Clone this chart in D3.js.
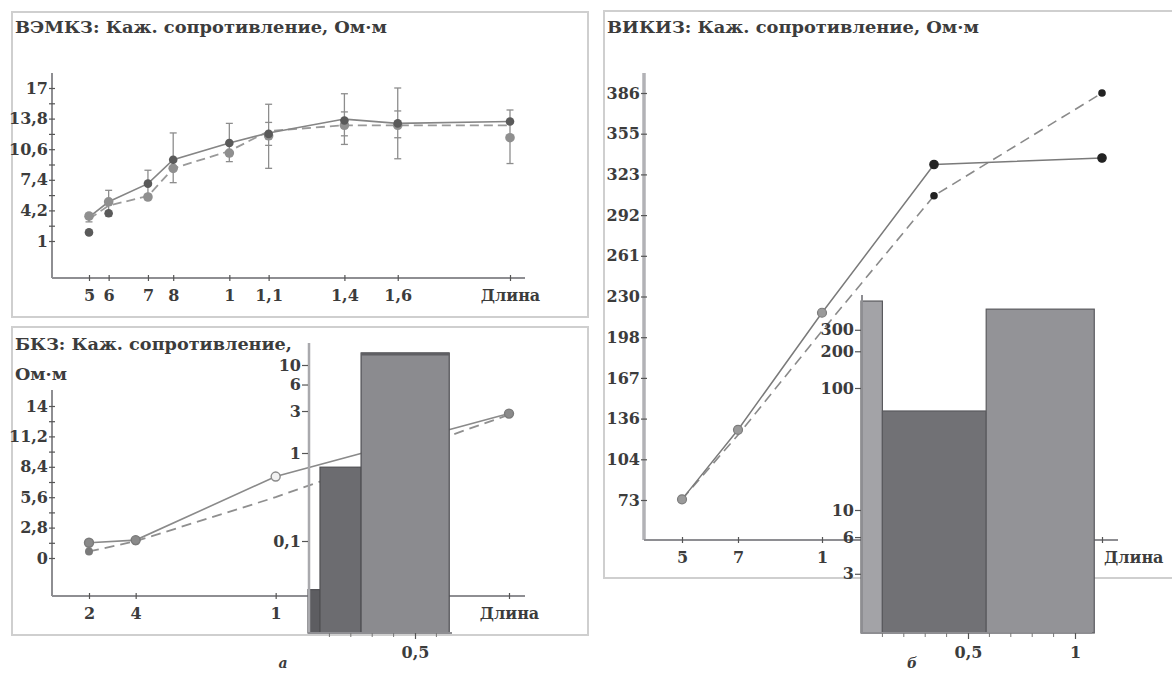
<!DOCTYPE html>
<html><head><meta charset="utf-8">
<script src="https://cdn.jsdelivr.net/npm/d3@7"></script>
<style>
body{margin:0;background:#fff}
svg text{font-family:'DejaVu Serif',serif;font-weight:bold;fill:#3c3c3c}
</style>
</head><body>
<svg id="c" width="1172" height="676"></svg>
<script>
// ---------- DATA ----------
// Panel a (top): ВЭМКЗ
const vemX = [0.5, 0.57, 0.71, 0.8, 1.0, 1.14, 1.41, 1.6, 2.0];
const vemXLabels = ["5", "6", "7", "8", "1", "1,1", "1,4", "1,6", "Длина"];
const vemYTicks = [1, 4.2, 7.4, 10.6, 13.8, 17];
const vemYLabels = ["1", "4,2", "7,4", "10,6", "13,8", "17"];
const vemYMinor = [2.6, 5.8, 9, 12.2, 15.4];
const vemSolid = [3.5, 5.1, 7.0, 9.5, 11.25, 12.3, 13.75, 13.3, 13.5];
const vemDashed = [3.3, 4.7, 5.7, 8.6, 10.4, 12.5, 13.1, 13.1, 13.1];
const vemDark = [1.9, 3.9, 7.0, 9.5, 11.25, 12.2, 13.6, 13.3, 13.5];
const vemGray = [3.6, 5.1, 5.6, 8.6, 10.2, 12.0, 13.1, 13.1, 11.8];
const vemErrLo = [3.0, 3.6, 5.5, 7.1, 9.3, 8.6, 11.1, 9.6, 9.1];
const vemErrHi = [3.9, 6.3, 8.4, 12.3, 13.3, 15.3, 16.4, 17.0, 14.7];
const vemInnerLo = [null, null, null, null, null, 11.0, 12.0, 11.8, null];
const vemInnerHi = [null, null, null, null, null, 13.4, 14.5, 14.6, null];

// Panel a (bottom): БКЗ
const bkzX = [0.2, 0.4, 1.0, 2.0];
const bkzXLabels = ["2", "4", "1", "Длина"];
const bkzYTicks = [0, 2.8, 5.6, 8.4, 11.2, 14];
const bkzYLabels = ["0", "2,8", "5,6", "8,4", "11,2", "14"];
const bkzYMinor = [1.4, 4.2, 7.0, 9.8, 12.6];
const bkzSolid = [1.4, 1.65, 7.5, 13.3];
const bkzDashed = [0.6, 1.55, 5.6, 13.2];

// Inset a: layered model (log scale)
const bkzLayerEdges = [0, 0.056, 0.248, 0.66];
const bkzLayerValues = [0.028, 0.69, 13.7];
const bkzLayerColors = ["#5d5d61", "#6c6c70", "#8b8b8f"];
const bkzInsetYTicks = [0.1, 1, 3, 6, 10];
const bkzInsetYLabels = ["0,1", "1", "3", "6", "10"];
const insetXMajorA = [0.5];
const insetXMajorLabelsA = ["0,5"];
const insetXMinorA = [0.1, 0.2, 0.3, 0.4, 0.6];

// Panel б: ВИКИЗ
const vikX = [0.5, 0.7, 1.0, 1.4, 2.0];
const vikXTicks = [0.5, 0.7, 1.0, 2.0];
const vikXLabels = ["5", "7", "1", ""];
const vikYTicks = [73, 104.3, 135.6, 166.9, 198.2, 229.5, 260.8, 292.1, 323.4, 354.7, 386];
const vikYLabels = ["73", "104", "136", "167", "198", "230", "261", "292", "323", "355", "386"];
const vikSolid = [73.5, 127, 217, 331, 336];
const vikDashed = [73.5, 123, 203, 307, 386];

// Inset б
const vikLayerEdges = [0, 0.1, 0.585, 1.09];
const vikLayerValues = [516, 64.8, 443];
const vikLayerColors = ["#a3a3a7", "#717175", "#939397"];
const vikInsetYTicks = [3, 6, 10, 100, 200, 300];
const vikInsetYLabels = ["3", "6", "10", "100", "200", "300"];
const insetXMajorB = [0.5, 1];
const insetXMajorLabelsB = ["0,5", "1"];
const insetXMinorB = [0.1, 0.2, 0.3, 0.4, 0.6, 0.7, 0.8, 0.9];

// ---------- DRAW ----------
const svg = d3.select("#c");
svg.append("rect").attr("width", 1172).attr("height", 676).attr("fill", "#fff");

const AX = "#8e8e92", TK = "#555", FS = 16;
function box(x, y, w, h) {
  svg.append("rect").attr("x", x).attr("y", y).attr("width", w).attr("height", h)
    .attr("fill", "none").attr("stroke", "#cfcfcf").attr("stroke-width", 2);
}
function title(x, y, t, len) {
  svg.append("text").attr("x", x).attr("y", y).attr("font-size", 17.5)
    .attr("textLength", len).attr("lengthAdjust", "spacingAndGlyphs").text(t);
}
function line(x1, y1, x2, y2, col, w) {
  svg.append("line").attr("x1", x1).attr("y1", y1).attr("x2", x2).attr("y2", y2)
    .attr("stroke", col).attr("stroke-width", w);
}
function yAxis(scale, x0, ticks, labels, minor) {
  const g = svg.append("g").attr("transform", `translate(${x0 + 3},0)`)
    .call(d3.axisLeft(scale).tickValues(ticks).tickSize(6).tickPadding(1)
      .tickFormat((d, i) => labels[i]));
  g.select(".domain").remove();
  g.selectAll(".tick line").attr("stroke", TK).attr("stroke-width", 1.2);
  g.selectAll(".tick text").attr("font-size", FS).attr("fill", "#3c3c3c")
    .attr("font-family", "DejaVu Serif").attr("font-weight", "bold");
  if (minor) {
    const m = svg.append("g").attr("transform", `translate(${x0 + 3},0)`)
      .call(d3.axisLeft(scale).tickValues(minor).tickSize(6).tickFormat(""));
    m.select(".domain").remove();
    m.selectAll(".tick line").attr("stroke", TK).attr("stroke-width", 1.2);
  }
}
function xAxis(scale, y0, ticks, labels, pad) {
  const g = svg.append("g").attr("transform", `translate(0,${y0 - 3})`)
    .call(d3.axisBottom(scale).tickValues(ticks).tickSize(6).tickPadding(pad === undefined ? 9 : pad)
      .tickFormat((d, i) => labels[i]));
  g.select(".domain").remove();
  g.selectAll(".tick line").attr("stroke", TK).attr("stroke-width", 1.2);
  g.selectAll(".tick text").attr("font-size", FS).attr("fill", "#3c3c3c")
    .attr("font-family", "DejaVu Serif").attr("font-weight", "bold");
  return g;
}

// ===== Panel a top: ВЭМКЗ =====
box(12, 12, 576, 305);
title(15, 33, "ВЭМКЗ: Каж. сопротивление, Ом·м", 372);
const vx = d3.scaleLinear().domain([0.5, 2]).range([89, 510]);
const vy = d3.scaleLinear().domain([1, 17]).range([241, 88]);
line(52, 73, 52, 278, AX, 2);
line(52, 278, 525, 278, AX, 2);
yAxis(vy, 52, vemYTicks, vemYLabels, vemYMinor);
xAxis(vx, 278, vemX, vemXLabels);

// error bars
const eg = svg.append("g").attr("stroke", "#8d8d8d").attr("stroke-width", 1.3);
vemX.forEach((x, i) => {
  const px = vx(x);
  eg.append("line").attr("x1", px).attr("x2", px).attr("y1", vy(vemErrLo[i])).attr("y2", vy(vemErrHi[i]));
  [vemErrLo[i], vemErrHi[i], vemInnerLo[i], vemInnerHi[i]].forEach(v => {
    if (v === null) return;
    eg.append("line").attr("x1", px - 3.5).attr("x2", px + 3.5).attr("y1", vy(v)).attr("y2", vy(v));
  });
});
const lv = d3.line().x((d, i) => vx(vemX[i])).y(d => vy(d));
svg.append("path").datum(vemDashed).attr("d", lv).attr("fill", "none")
  .attr("stroke", "#9a9a9a").attr("stroke-width", 1.8).attr("stroke-dasharray", "9,5");
svg.append("path").datum(vemSolid).attr("d", lv).attr("fill", "none")
  .attr("stroke", "#858585").attr("stroke-width", 1.6);
svg.selectAll(".vg").data(vemGray).enter().append("circle")
  .attr("cx", (d, i) => vx(vemX[i])).attr("cy", d => vy(d)).attr("r", 4.8).attr("fill", "#8f8f8f");
svg.selectAll(".vd").data(vemDark).enter().append("circle")
  .attr("cx", (d, i) => vx(vemX[i])).attr("cy", d => vy(d)).attr("r", 4.3).attr("fill", "#5a5a5a");

// ===== Panel a bottom: БКЗ =====
box(12, 327, 576, 308);
title(15, 350, "БКЗ: Каж. сопротивление,", 277);
svg.append("text").attr("x", 15).attr("y", 380).attr("font-size", 17.5)
  .attr("textLength", 52).attr("lengthAdjust", "spacingAndGlyphs").text("Ом·м");
const bx = d3.scaleLinear().domain([0.2, 2]).range([89, 509]);
const by = d3.scaleLinear().domain([0, 14]).range([558, 406]);
line(52, 390, 52, 596, AX, 2);
line(52, 596, 525, 596, AX, 2);
yAxis(by, 52, bkzYTicks, bkzYLabels, bkzYMinor);
xAxis(bx, 596, bkzX, bkzXLabels);
const lb = d3.line().x((d, i) => bx(bkzX[i])).y(d => by(d));
svg.append("path").datum(bkzDashed).attr("d", lb).attr("fill", "none")
  .attr("stroke", "#8f8f8f").attr("stroke-width", 1.8).attr("stroke-dasharray", "10,6");
svg.append("path").datum(bkzSolid).attr("d", lb).attr("fill", "none")
  .attr("stroke", "#8a8a8a").attr("stroke-width", 1.6);
svg.selectAll(".bd").data(bkzDashed).enter().append("circle")
  .attr("cx", (d, i) => bx(bkzX[i])).attr("cy", d => by(d)).attr("r", (d, i) => i < 2 ? 4 : 0)
  .attr("fill", "#7a7a7a");
svg.selectAll(".bs").data(bkzSolid).enter().append("circle")
  .attr("cx", (d, i) => bx(bkzX[i])).attr("cy", d => by(d)).attr("r", 4.5)
  .attr("fill", (d, i) => i === 2 ? "#f2f2f2" : "#8a8a8a")
  .attr("stroke", (d, i) => i === 2 ? "#8a8a8a" : "#7a7a7a").attr("stroke-width", 1.4);

// Inset a
const ix = d3.scaleLinear().domain([0, 1]).range([308, 522]);
const iy = d3.scaleLog().domain([0.1, 10]).range([541, 365]);
bkzLayerValues.forEach((v, i) => {
  svg.append("rect").attr("x", ix(bkzLayerEdges[i])).attr("y", iy(v))
    .attr("width", ix(bkzLayerEdges[i + 1]) - ix(bkzLayerEdges[i])).attr("height", 633 - iy(v))
    .attr("fill", bkzLayerColors[i]).attr("stroke", "#4f4f53").attr("stroke-width", 1.2);
});
line(ix(bkzLayerEdges[2]), iy(bkzLayerValues[2]) + 1, ix(bkzLayerEdges[3]), iy(bkzLayerValues[2]) + 1, "#5f5f63", 3);
line(309, 343, 309, 633, "#a9a9ad", 2.5);
line(308, 633, 452, 633, "#8e8e92", 2);
yAxis(iy, 305, bkzInsetYTicks, bkzInsetYLabels);
xAxis(ix, 636, insetXMajorA, insetXMajorLabelsA, 8);
svg.selectAll(".mina").data(insetXMinorA).enter().append("line")
  .attr("x1", d => ix(d)).attr("x2", d => ix(d)).attr("y1", 633).attr("y2", 637)
  .attr("stroke", "#777").attr("stroke-width", 1);

// ===== Panel б: ВИКИЗ =====
box(604, 11, 620, 567);
title(607, 33, "ВИКИЗ: Каж. сопротивление, Ом·м", 372);
const kx = d3.scaleLinear().domain([0.5, 2]).range([682, 1102]);
const ky = d3.scaleLinear().domain([73, 386]).range([500, 93]);
line(644, 73, 644, 540, "#b2b2b6", 3.5);
line(644, 540, 1118, 540, "#8e8e92", 2);
yAxis(ky, 644, vikYTicks, vikYLabels);
xAxis(kx, 540, vikXTicks, vikXLabels);
svg.append("text").attr("x", 1104).attr("y", 563).attr("font-size", FS).text("Длина");
const lk = d3.line().x((d, i) => kx(vikX[i])).y(d => ky(d));
svg.append("path").datum(vikDashed).attr("d", lk).attr("fill", "none")
  .attr("stroke", "#8a8a8a").attr("stroke-width", 1.6).attr("stroke-dasharray", "10,6");
svg.append("path").datum(vikSolid).attr("d", lk).attr("fill", "none")
  .attr("stroke", "#7a7a7a").attr("stroke-width", 1.5);
svg.selectAll(".kd").data(vikDashed).enter().append("circle")
  .attr("cx", (d, i) => kx(vikX[i])).attr("cy", d => ky(d)).attr("r", (d, i) => i >= 3 ? 3.8 : 0)
  .attr("fill", "#222");
svg.selectAll(".ks").data(vikSolid).enter().append("circle")
  .attr("cx", (d, i) => kx(vikX[i])).attr("cy", d => ky(d)).attr("r", (d, i) => i >= 3 ? 4.2 : 4.5)
  .attr("fill", (d, i) => i >= 3 ? "#222" : "#9a9a9a")
  .attr("stroke", (d, i) => i >= 3 ? "#222" : "#7c7c7c").attr("stroke-width", 1.2);

// Inset б
const jx = d3.scaleLinear().domain([0, 1]).range([861, 1075]);
const jy = d3.scaleLog().domain([10, 100]).range([510, 388]);
vikLayerValues.forEach((v, i) => {
  svg.append("rect").attr("x", jx(vikLayerEdges[i])).attr("y", jy(v))
    .attr("width", jx(vikLayerEdges[i + 1]) - jx(vikLayerEdges[i])).attr("height", 633 - jy(v))
    .attr("fill", vikLayerColors[i]).attr("stroke", "#5a5a5e").attr("stroke-width", 1.2);
});
line(862, 295, 862, 633, "#8e8e92", 2);
line(861, 633, 1092, 633, "#8e8e92", 2);
yAxis(jy, 858, vikInsetYTicks, vikInsetYLabels);
xAxis(jx, 636, insetXMajorB, insetXMajorLabelsB, 8);
svg.selectAll(".minb").data(insetXMinorB).enter().append("line")
  .attr("x1", d => jx(d)).attr("x2", d => jx(d)).attr("y1", 633).attr("y2", 637)
  .attr("stroke", "#777").attr("stroke-width", 1);

// sub-figure letters
svg.append("text").attr("x", 283).attr("y", 668).attr("font-size", 14)
  .attr("font-style", "italic").attr("text-anchor", "middle").text("а");
svg.append("text").attr("x", 912).attr("y", 668).attr("font-size", 14)
  .attr("font-style", "italic").attr("text-anchor", "middle").text("б");
</script>
</body></html>
